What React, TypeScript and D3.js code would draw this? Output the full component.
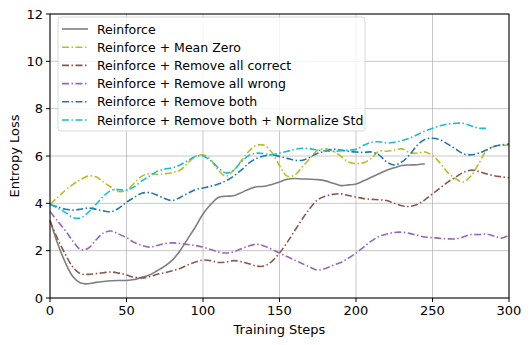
import React from "react";
import * as d3 from "d3";

const W = 531, H = 345;
const M = { left: 50, right: 22, top: 14, bottom: 47 };

const xTicks = [0, 50, 100, 150, 200, 250, 300];
const yTicks = [0, 2, 4, 6, 8, 10, 12];

const names = [
  "Reinforce",
  "Reinforce + Mean Zero",
  "Reinforce + Remove all correct",
  "Reinforce + Remove all wrong",
  "Reinforce + Remove both",
  "Reinforce + Remove both + Normalize Std",
];
const colors = ["#7f7f7f", "#bcbd22", "#8c564b", "#9467bd", "#1f77b4", "#17becf"];
const dashed = [false, true, true, true, true, true];

// values sampled every 5 training steps starting at 0
const reinforce = [3.3, 2.3, 1.5, 0.9, 0.63, 0.6, 0.66, 0.7, 0.73, 0.74, 0.74, 0.78, 0.88, 0.97, 1.15, 1.35, 1.6, 2.0, 2.5, 3.0, 3.55, 3.95, 4.25, 4.3, 4.32, 4.45, 4.6, 4.7, 4.72, 4.8, 4.9, 5.02, 5.05, 5.03, 5.02, 5.0, 4.95, 4.85, 4.75, 4.78, 4.82, 4.95, 5.1, 5.25, 5.4, 5.5, 5.6, 5.62, 5.63, 5.67];
const meanZero = [3.97, 4.25, 4.55, 4.8, 5.0, 5.15, 5.12, 4.9, 4.68, 4.5, 4.55, 4.85, 5.15, 5.25, 5.22, 5.25, 5.3, 5.4, 5.7, 5.98, 6.05, 5.85, 5.4, 5.15, 5.4, 5.8, 6.2, 6.45, 6.45, 6.15, 5.6, 5.15, 5.2, 5.55, 5.9, 6.25, 6.3, 6.2, 6.0, 5.75, 5.68, 5.72, 5.9, 6.2, 6.2, 6.25, 6.3, 6.15, 6.12, 6.17, 6.02, 5.7, 5.3, 5.05, 4.9, 5.15, 5.65, 6.2, 6.4, 6.45, 6.45];
const removeCorrect = [3.25, 2.5, 1.85, 1.3, 1.02, 1.0, 1.03, 1.07, 1.1, 1.05, 0.97, 0.88, 0.85, 0.9, 1.0, 1.07, 1.15, 1.25, 1.4, 1.52, 1.6, 1.58, 1.5, 1.52, 1.58, 1.53, 1.45, 1.35, 1.35, 1.55, 1.9, 2.35, 2.85, 3.35, 3.8, 4.15, 4.3, 4.38, 4.4, 4.33, 4.27, 4.2, 4.17, 4.15, 4.12, 4.0, 3.9, 3.87, 3.95, 4.15, 4.4, 4.65, 4.9, 5.1, 5.3, 5.4, 5.35, 5.25, 5.17, 5.12, 5.08];
const removeWrong = [3.65, 3.25, 2.85, 2.4, 2.05, 2.1, 2.45, 2.75, 2.83, 2.7, 2.55, 2.35, 2.22, 2.15, 2.22, 2.3, 2.33, 2.3, 2.26, 2.22, 2.15, 2.05, 1.95, 1.9, 1.95, 2.08, 2.2, 2.27, 2.2, 2.05, 1.9, 1.75, 1.6, 1.45, 1.3, 1.18, 1.25, 1.38, 1.5, 1.68, 1.9, 2.15, 2.4, 2.6, 2.7, 2.77, 2.78, 2.73, 2.65, 2.58, 2.55, 2.52, 2.5, 2.5, 2.58, 2.68, 2.68, 2.7, 2.62, 2.53, 2.65];
const removeBoth = [3.95, 3.85, 3.75, 3.72, 3.75, 3.8, 3.75, 3.68, 3.65, 3.8, 4.05, 4.25, 4.43, 4.45, 4.35, 4.2, 4.12, 4.25, 4.42, 4.58, 4.65, 4.72, 4.82, 4.95, 5.15, 5.4, 5.7, 5.9, 6.0, 6.05, 5.98, 5.9, 5.82, 5.82, 5.95, 6.12, 6.2, 6.28, 6.25, 6.2, 6.17, 6.15, 6.17, 6.05, 5.75, 5.62, 5.75, 6.05, 6.45, 6.7, 6.75, 6.68, 6.5, 6.3, 6.1, 6.05, 6.12, 6.25, 6.4, 6.47, 6.5];
const normalizeStd = [3.97, 3.8, 3.62, 3.4, 3.38, 3.62, 3.95, 4.3, 4.55, 4.58, 4.55, 4.7, 4.95, 5.15, 5.35, 5.45, 5.5, 5.62, 5.8, 5.98, 6.0, 5.8, 5.5, 5.28, 5.4, 5.75, 6.02, 6.12, 6.1, 6.05, 6.12, 6.2, 6.28, 6.33, 6.3, 6.25, 6.22, 6.2, 6.22, 6.25, 6.28, 6.45, 6.58, 6.6, 6.55, 6.58, 6.65, 6.75, 6.9, 7.05, 7.17, 7.28, 7.35, 7.38, 7.38, 7.28, 7.18, 7.17];

const seriesValues = [reinforce, meanZero, removeCorrect, removeWrong, removeBoth, normalizeStd];
const STEP = 5;

export default function App() {
  const x = d3.scaleLinear().domain([0, 300]).range([M.left, W - M.right]);
  const y = d3.scaleLinear().domain([0, 12]).range([H - M.bottom, M.top]);
  const line = d3
    .line<number>()
    .x((_, i) => x(i * STEP))
    .y((v) => y(v))
    .curve(d3.curveCatmullRom.alpha(0.5));

  const font = "DejaVu Sans, sans-serif";
  const dash = "7,2.5,1.5,2.5";
  const legX = 58, legY = 17, legW = 307, legH = 114, rowH = 18.2;

  return (
    <svg width={W} height={H} style={{ position: "absolute", left: 0, top: 0 }} fontFamily={font}>
      <rect x={0} y={0} width={W} height={H} fill="#fff" />
      {/* grid */}
      {xTicks.map((t) => (
        <line key={"gx" + t} x1={x(t)} x2={x(t)} y1={y(0)} y2={y(12)} stroke="#b0b0b0" strokeOpacity={0.7} strokeWidth={1} />
      ))}
      {yTicks.map((t) => (
        <line key={"gy" + t} x1={x(0)} x2={x(300)} y1={y(t)} y2={y(t)} stroke="#b0b0b0" strokeOpacity={0.7} strokeWidth={1} />
      ))}
      {/* lines */}
      {seriesValues.map((vals, i) => (
        <path
          key={names[i]}
          d={line(vals) || ""}
          fill="none"
          stroke={colors[i]}
          strokeWidth={1.6}
          strokeDasharray={dashed[i] ? dash : undefined}
        />
      ))}
      {/* frame */}
      <rect x={x(0)} y={y(12)} width={x(300) - x(0)} height={y(0) - y(12)} fill="none" stroke="#000" strokeWidth={1} />
      {/* ticks */}
      {xTicks.map((t) => (
        <g key={"tx" + t}>
          <line x1={x(t)} x2={x(t)} y1={y(0)} y2={y(0) + 4} stroke="#000" />
          <text x={x(t)} y={y(0) + 17} fontSize={13} textAnchor="middle">{t}</text>
        </g>
      ))}
      {yTicks.map((t) => (
        <g key={"ty" + t}>
          <line x1={x(0) - 4} x2={x(0)} y1={y(t)} y2={y(t)} stroke="#000" />
          <text x={x(0) - 7} y={y(t) + 4.5} fontSize={13} textAnchor="end">{t}</text>
        </g>
      ))}
      <text x={(x(0) + x(300)) / 2} y={334} fontSize={13} textAnchor="middle">Training Steps</text>
      <text transform={`translate(19,${(y(0) + y(12)) / 2}) rotate(-90)`} fontSize={13} textAnchor="middle">Entropy Loss</text>
      {/* legend */}
      <rect x={legX} y={legY} width={legW} height={legH} rx={3} fill="#fff" fillOpacity={0.8} stroke="#d9d9d9" />
      {names.map((n, i) => {
        const yy = legY + 12 + i * rowH;
        return (
          <g key={"l" + i}>
            <line x1={62} x2={88} y1={yy} y2={yy} stroke={colors[i]} strokeWidth={1.6} strokeDasharray={dashed[i] ? dash : undefined} />
            <text x={97} y={yy + 4.5} fontSize={12.5}>{n}</text>
          </g>
        );
      })}
    </svg>
  );
}
